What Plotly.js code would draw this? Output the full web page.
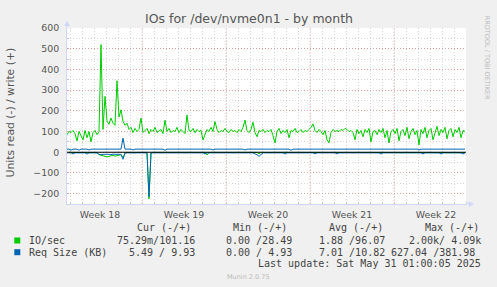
<!DOCTYPE html>
<html><head><meta charset="utf-8">
<script src="https://cdn.plot.ly/plotly-3.0.1.min.js"></script>
<style>html,body{margin:0;padding:0;background:#F0F0F0;}#chart{width:497px;height:287px;}</style>
</head><body><div id="chart"></div>
<script>
// ---- data ----
const startTimeUTC = Date.UTC(2025, 3, 27, 18, 0, 0);
const stepHours = 4;
const ioWrite = [
 85,100,95,105,90,55,100,80,60,105,70,100,50,95,105,85,100,520,110,270,
 150,135,165,140,130,345,170,205,150,130,140,110,120,95,115,100,110,165,95,105,
 115,90,110,100,120,95,105,110,90,155,100,115,95,105,100,120,95,110,100,90,
 180,105,100,115,95,110,100,105,60,90,110,100,120,100,148,110,95,105,100,115,
 100,95,110,100,105,95,110,100,120,155,105,95,110,145,95,75,105,100,110,95,
 105,100,110,80,45,100,115,90,105,95,110,70,105,100,115,95,100,110,95,105,
 100,110,120,137,105,95,110,100,85,105,60,45,95,110,100,105,100,110,105,115,
 110,100,105,95,60,110,90,105,75,110,95,115,50,100,105,85,110,95,115,70,
 105,45,100,110,90,115,55,100,110,80,120,65,100,115,85,105,35,110,90,120,
 70,105,115,60,100,125,80,110,95,120,65,105,115,75,110,95,120,70,105,100
];
const ioRead = [
 1,1,2,1,1,2,1,1,1,2,1,1,2,1,1,2,12,15,18,20,
 22,20,17,15,19,17,14,12,25,3,1,2,1,1,2,1,1,3,1,2,
 1,225,2,1,1,2,1,1,1,2,1,1,3,1,1,2,1,1,1,2,
 1,1,2,1,1,1,2,1,1,1,13,2,1,1,2,1,1,1,2,1,
 1,2,1,1,1,2,1,1,1,2,1,1,1,2,1,1,8,1,1,2,
 1,1,2,1,1,1,2,1,1,1,2,1,1,2,1,1,1,2,1,1,
 2,1,1,1,2,1,1,1,2,1,1,1,2,1,1,2,1,1,1,2,
 1,1,2,1,1,1,2,1,1,1,2,1,1,1,2,1,1,2,1,1,
 1,2,1,1,1,2,1,1,1,2,1,1,2,1,1,1,2,1,1,1,
 2,1,1,1,2,1,1,2,1,1,1,2,1,1,1,2,1,1,1,2
];
const reqWrite = [
 15,15,10,15,15,15,10,15,15,15,15,11,15,15,15,15,15,14,15,15,
 15,14,15,15,15,15,14,15,68,15,15,15,15,11,15,15,15,15,15,15,
 15,15,15,15,15,15,15,15,15,10,15,15,15,15,15,15,15,15,15,15,
 15,15,15,15,15,15,15,15,15,15,15,15,15,11,15,15,15,15,15,15,
 15,15,15,15,15,15,15,15,15,11,15,15,15,15,15,15,15,15,15,15,
 15,15,15,15,15,15,15,15,15,15,15,15,10,15,15,15,15,15,15,15,
 15,15,15,15,15,15,15,15,15,15,15,15,15,15,15,15,15,15,15,15,
 15,15,15,15,15,15,15,15,15,15,15,15,15,15,15,15,15,15,15,15,
 15,15,15,15,15,15,15,15,15,15,15,15,15,15,15,15,11,15,15,15,
 15,15,15,15,15,15,15,15,15,15,15,15,15,15,15,15,15,15,15,15
];
const reqRead = [
 3,3,3,8,3,3,3,3,3,3,9,3,3,3,3,3,10,12,10,9,
 11,10,12,9,10,11,9,10,34,4,3,3,3,3,3,3,3,3,3,3,
 3,215,3,3,3,3,3,3,3,3,3,3,3,3,3,3,3,3,3,3,
 3,3,3,3,3,3,3,3,3,8,3,3,3,3,3,3,3,3,3,3,
 3,3,3,3,3,3,3,3,3,3,3,3,3,3,8,12,20,10,3,3,
 3,3,3,3,3,3,3,3,3,8,3,3,3,3,3,3,3,3,3,3,
 3,3,3,3,8,3,3,3,3,3,3,3,3,3,3,8,3,3,3,3,
 3,3,3,3,3,3,3,3,3,3,3,3,3,3,3,3,3,8,3,3,
 3,3,3,3,3,3,3,3,3,3,3,3,3,3,3,3,3,3,8,3,
 3,3,3,3,3,3,3,8,3,3,3,3,3,3,3,3,3,3,8,3
];
const weekLabels = ['Week 18','Week 19','Week 20','Week 21','Week 22'];
const weekLabelTimes = ['2025-04-30 12:00','2025-05-07 12:00','2025-05-14 12:00','2025-05-21 12:00','2025-05-28 12:00'];
const weekStarts = ['2025-05-04 00:00','2025-05-11 00:00','2025-05-18 00:00','2025-05-25 00:00'];
const yTickVals = [-200,-100,0,100,200,300,400,500,600];
const seriesNames = ['IO/sec','Req Size (KB)'];
const seriesColors = ['#00CC00','#0066B3'];
const statHeaders = ['Cur (-/+)','Min (-/+)','Avg (-/+)','Max (-/+)'];
const curStats = ['75.29m/101.16','5.49 / 9.93'];
const minStats = ['0.00 /28.49','0.00 / 4.93'];
const avgStats = ['1.88 /96.07','7.01 /10.82'];
const maxStats = ['2.00k/ 4.09k','627.04 /381.98'];
const lastUpdate = 'Last update: Sat May 31 01:00:05 2025';

// ---- build ----
function fmt(ms){ return new Date(ms).toISOString().slice(0,16).replace('T',' '); }
const times = ioWrite.map((_, i) => fmt(startTimeUTC + i*stepHours*3600e3));
const neg = a => a.map(v => -v);

const L = 66.7, R = 465.7, T = 28, B = 203.6, W = R - L, H = B - T;
const px = x => (x - L) / W;
const py = y => (B - y) / H;

const traces = [
  {x: times, y: ioWrite, type:'scatter', mode:'lines', line:{color:seriesColors[0], width:1}, hoverinfo:'skip'},
  {x: times, y: neg(ioRead), type:'scatter', mode:'lines', line:{color:seriesColors[0], width:1}, hoverinfo:'skip'},
  {x: times, y: reqWrite, type:'scatter', mode:'lines', line:{color:seriesColors[1], width:1}, hoverinfo:'skip'},
  {x: times, y: neg(reqRead), type:'scatter', mode:'lines', line:{color:seriesColors[1], width:1}, hoverinfo:'skip'}
];

const txt = '#555555';
const sans = 'DejaVu Sans';
const mono = 'DejaVu Sans Mono';
const ann = [];
function addText(text, x, y, opts){
  ann.push(Object.assign({text, xref:'paper', yref:'paper', x:px(x), y:py(y), showarrow:false,
    xanchor:'left', yanchor:'middle', font:{family:mono, size:10, color:'#444'}}, opts||{}));
}
addText('IOs for /dev/nvme0n1 - by month', 248.3, 19, {xanchor:'center', font:{family:sans, size:12.5, color:txt}});
addText('Units read (-) / write (+)', 10, 112, {xanchor:'center', textangle:-90, font:{family:sans, size:10.8, color:txt}});
addText('RRDTOOL / TOBI OETIKER', 487, 58, {xanchor:'center', textangle:90, font:{family:sans, size:6.5, color:'#bbbbbb'}});
addText('Munin 2.0.75', 248, 276.3, {xanchor:'center', font:{family:sans, size:6.5, color:'#bbbbbb'}});
const headerX = [134.7, 230.7, 326.7, 422.7];
statHeaders.forEach((h, k) => addText(h, headerX[k], 227.3));
const rowY = [240, 251.7];
seriesNames.forEach((n, r) => {
  addText(n, 26.7, rowY[r]);
  addText(curStats[r], 196.7, rowY[r], {xanchor:'right'});
  addText(minStats[r], 224, rowY[r]);
  addText(avgStats[r], 317, rowY[r]);
  addText(maxStats[r], r === 0 ? 482.7 : 476.7, rowY[r], {xanchor:'right'});
});
addText(lastUpdate, 482.7, 263.3, {xanchor:'right'});

const majorGrid = 'rgba(232,150,150,0.75)';
const minorGrid = 'rgba(190,190,190,0.6)';
const shapes = [];
// week major grid lines
weekStarts.forEach(d => shapes.push({type:'line', xref:'x', yref:'paper', x0:d, x1:d, y0:0, y1:1,
  line:{color:majorGrid, width:1, dash:'1px,2px'}, layer:'below'}));
// legend squares
seriesColors.forEach((c, r) => shapes.push({type:'rect', xref:'paper', yref:'paper',
  x0:px(14), x1:px(20), y0:py(rowY[r]-3), y1:py(rowY[r]+3), line:{width:0}, fillcolor:c}));
// zero line
shapes.push({type:'line', xref:'paper', yref:'y', x0:0, x1:1, y0:0, y1:0, line:{color:'#000', width:1}, layer:'above'});
// axis extensions and arrows
const axisCol = '#CFD6F8';
shapes.push({type:'line', xref:'paper', yref:'paper', x0:px(L), x1:px(L), y0:py(T), y1:py(22), line:{color:axisCol, width:1}});
shapes.push({type:'path', xref:'paper', yref:'paper', path:`M ${px(63.7)} ${py(26)} L ${px(69.7)} ${py(26)} L ${px(66.7)} ${py(21)} Z`, fillcolor:axisCol, line:{width:0}});
shapes.push({type:'line', xref:'paper', yref:'paper', x0:px(R), x1:px(470), y0:py(B), y1:py(B), line:{color:axisCol, width:1}});
shapes.push({type:'path', xref:'paper', yref:'paper', path:`M ${px(468.5)} ${py(B-3)} L ${px(468.5)} ${py(B+3)} L ${px(473.5)} ${py(B)} Z`, fillcolor:axisCol, line:{width:0}});

const layout = {
  width:497, height:287,
  margin:{l:L, r:497-R, t:T, b:287-B, pad:0},
  paper_bgcolor:'#F0F0F0', plot_bgcolor:'#FFFFFF',
  showlegend:false,
  xaxis:{type:'date', range:['2025-04-27 18:00','2025-05-31 00:00'],
    tickmode:'array', tickvals:weekLabelTimes, ticktext:weekLabels, ticks:'',
    showgrid:false, zeroline:false, showline:true, linecolor:axisCol, linewidth:1,
    tickfont:{family:sans, size:9.4, color:txt}, ticklabelstandoff:2,
    minor:{tickmode:'linear', tick0:'2025-04-27 00:00', dtick:86400000, showgrid:true,
      gridcolor:minorGrid, griddash:'1px,2px', gridwidth:1, ticks:'inside', ticklen:2, tickcolor:'#c8c8c8'}},
  yaxis:{range:[-250,600], tickmode:'array', tickvals:yTickVals, ticks:'inside', ticklen:2, tickcolor:'#d8a8a8',
    showgrid:true, gridcolor:majorGrid, griddash:'1px,2px', gridwidth:1,
    zeroline:false, showline:true, linecolor:axisCol, linewidth:1,
    tickfont:{family:sans, size:9.4, color:txt}, ticklabelstandoff:5,
    minor:{tickmode:'linear', tick0:0, dtick:50, showgrid:true, gridcolor:minorGrid, griddash:'1px,2px', gridwidth:1,
      ticks:'inside', ticklen:2, tickcolor:'#c8c8c8'}},
  annotations:ann, shapes:shapes
};
Plotly.newPlot('chart', traces, layout, {staticPlot:true, displayModeBar:false});
</script></body></html>
